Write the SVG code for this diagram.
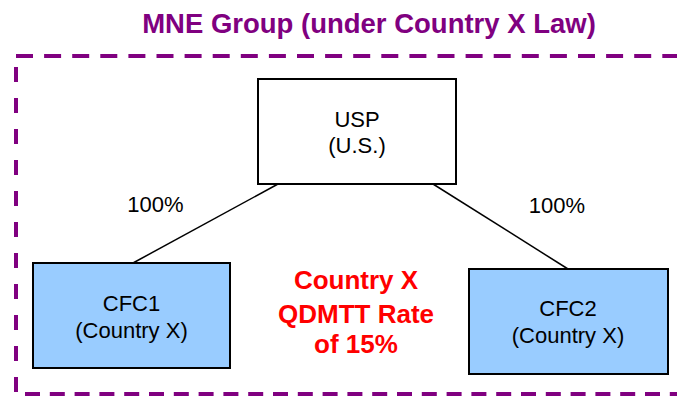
<svg xmlns="http://www.w3.org/2000/svg" width="677" height="396" viewBox="0 0 677 396">
<style>
.t{font-family:"Liberation Sans",Arial,sans-serif;font-size:22px;fill:#000;text-anchor:middle}
.title{font-family:"Liberation Sans",Arial,sans-serif;font-size:27.5px;font-weight:bold;fill:#800080;text-anchor:middle}
.red{font-family:"Liberation Sans",Arial,sans-serif;font-size:26px;font-weight:bold;fill:#FF0000;text-anchor:middle}
.box{stroke:#000;stroke-width:2}
.blue{fill:#99CCFF}
.white{fill:#FFFFFF}
.edge{stroke:#000;stroke-width:1.5;fill:none}
.border{stroke:#800080;stroke-width:4;fill:none}
</style>
<rect width="677" height="396" fill="#FFFFFF"/>
<text class="title" x="369" y="33">MNE Group (under Country X Law)</text>
<g id="group-border">
<line class="border" x1="16" y1="56" x2="677" y2="56" stroke-dasharray="17 11.1"/>
<line class="border" x1="16" y1="67" x2="16" y2="394" stroke-dasharray="15 16"/>
<line class="border" x1="25" y1="394" x2="677" y2="394" stroke-dasharray="15 9.8"/>
</g>
<g id="connectors">
<line class="edge" x1="278" y1="184" x2="133" y2="263"/>
<line class="edge" x1="433" y1="184" x2="568" y2="269"/>
<text class="t" x="155.5" y="212">100%</text>
<text class="t" x="557" y="213">100%</text>
</g>
<g id="usp">
<rect class="box white" x="258" y="79" width="198" height="105"/>
<text class="t" x="357" y="127">USP</text>
<text class="t" x="357" y="153">(U.S.)</text>
</g>
<g id="cfc1">
<rect class="box blue" x="33" y="263" width="197" height="105"/>
<text class="t" x="131.5" y="311">CFC1</text>
<text class="t" x="131.5" y="338">(Country X)</text>
</g>
<g id="cfc2">
<rect class="box blue" x="469" y="269" width="199" height="105"/>
<text class="t" x="568" y="316">CFC2</text>
<text class="t" x="568" y="343">(Country X)</text>
</g>
<g id="rate-label">
<text class="red" x="356" y="289">Country X</text>
<text class="red" x="356" y="323">QDMTT Rate</text>
<text class="red" x="356" y="353">of 15%</text>
</g>
</svg>
